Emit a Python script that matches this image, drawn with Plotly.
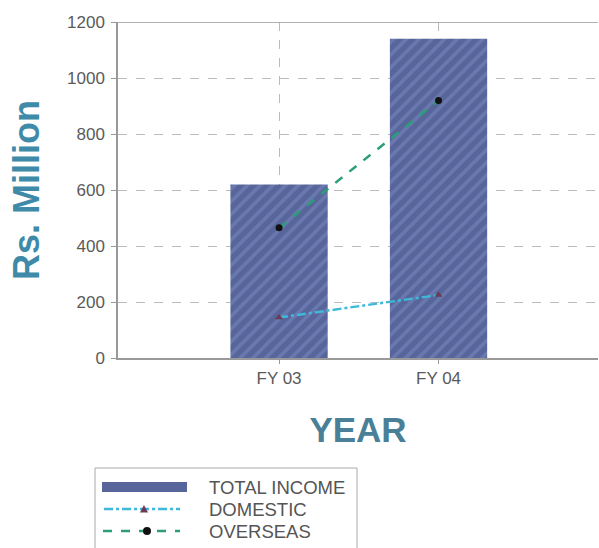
import plotly.graph_objects as go

years = ["FY 03", "FY 04"]
total_income = [620, 1140]
domestic = [145, 225]
overseas = [465, 920]

series_names = ["TOTAL INCOME", "DOMESTIC", "OVERSEAS"]

BAR_COLOR = "#57659a"
STRIPE_COLOR = "#7c8dc4"
DOM_LINE = "#3fb9da"
DOM_MARK = "#6b3a55"
OVS_LINE = "#2a9e78"
OVS_MARK = "#111111"
FONT = "Liberation Sans, Arial, sans-serif"

W, H = 599, 548
ML, MR, MT, MB = 118, 1, 22, 190
PW, PH = W - ML - MR, H - MT - MB


def px(x):
    """pixel column -> paper x"""
    return (x - ML) / PW


def py(y):
    """pixel row -> paper y"""
    return (H - MB - y) / PH


fig = go.Figure()

fig.add_trace(go.Bar(
    x=years, y=total_income, name=series_names[0],
    width=0.61,
    marker=dict(
        color=BAR_COLOR,
        line=dict(width=0),
        pattern=dict(shape="/", fgcolor=STRIPE_COLOR, size=9, solidity=0.4),
    ),
))

fig.add_trace(go.Scatter(
    x=years, y=domestic, name=series_names[1], mode="lines+markers",
    line=dict(color=DOM_LINE, width=2.5, dash="dashdot"),
    marker=dict(symbol="triangle-up", size=7, color=DOM_MARK),
))

fig.add_trace(go.Scatter(
    x=years, y=overseas, name=series_names[2], mode="lines+markers",
    line=dict(color=OVS_LINE, width=2.5, dash="dash"),
    marker=dict(symbol="circle", size=7, color=OVS_MARK),
))

fig.update_layout(
    width=W, height=H,
    margin=dict(l=ML, r=MR, t=MT, b=MB),
    plot_bgcolor="white", paper_bgcolor="white",
    font=dict(family=FONT, color="#555555", size=17),
    showlegend=False,
)

fig.update_xaxes(
    type="category", range=[-1.01, 2],
    showgrid=True, gridcolor="#bbbbbb", griddash="dash", gridwidth=1,
    showline=True, linecolor="#999999", linewidth=1.5,
    ticks="outside", ticklen=4, tickcolor="#999999",
    tickfont=dict(size=17, color="#5a5a5a"),
    title=dict(text="<b>YEAR</b>", font=dict(size=35, color="#4a7f98", family=FONT), standoff=30),
)

fig.update_yaxes(
    range=[0, 1200], tick0=0, dtick=200,
    showgrid=True, gridcolor="#bbbbbb", griddash="dash", gridwidth=1,
    showline=True, linecolor="#999999", linewidth=1.5,
    ticks="outside", ticklen=5, tickcolor="#999999",
    tickfont=dict(size=17, color="#5a5a5a"),
    ticklabelstandoff=3,
    zeroline=False,
    title=dict(text="<b>Rs. Million</b>", font=dict(size=36, color="#3e8aa8", family=FONT), standoff=16),
)

shapes = [
    # top border of the plotting area
    dict(type="line", xref="paper", yref="y", x0=0, x1=1, y0=1200, y1=1200,
         line=dict(color="#999999", width=1.5)),
    # legend frame
    dict(type="rect", xref="paper", yref="paper",
         x0=px(95), x1=px(357), y0=py(468), y1=py(552),
         line=dict(color="#aaaaaa", width=1), fillcolor="white", layer="below"),
    # legend swatch: bar
    dict(type="rect", xref="paper", yref="paper",
         x0=px(102), x1=px(187), y0=py(482), y1=py(492),
         line=dict(width=0), fillcolor=BAR_COLOR),
    # legend swatch: domestic line
    dict(type="line", xref="paper", yref="paper",
         x0=px(104), x1=px(180), y0=py(509), y1=py(509),
         line=dict(color=DOM_LINE, width=2.5, dash="dashdot")),
    # legend swatch: overseas line
    dict(type="line", xref="paper", yref="paper",
         x0=px(103), x1=px(180), y0=py(531), y1=py(531),
         line=dict(color=OVS_LINE, width=2.5, dash="dash")),
    # legend marker: domestic triangle
    dict(type="path", xref="paper", yref="paper",
         path="M {} {} L {} {} L {} {} Z".format(px(140), py(512.5), px(148), py(512.5), px(144), py(505)),
         fillcolor=DOM_MARK, line=dict(width=0)),
    # legend marker: overseas circle
    dict(type="circle", xref="paper", yref="paper",
         x0=px(143), x1=px(151), y0=py(527), y1=py(535),
         fillcolor=OVS_MARK, line=dict(width=0)),
]
fig.update_layout(shapes=shapes)

for name, row in zip(series_names, [487, 509, 531]):
    fig.add_annotation(
        xref="paper", yref="paper", x=px(207), y=py(row),
        xanchor="left", yanchor="middle", showarrow=False,
        text=name, font=dict(size=18.5, color="#555555", family=FONT),
    )

fig.write_html("out.html")
